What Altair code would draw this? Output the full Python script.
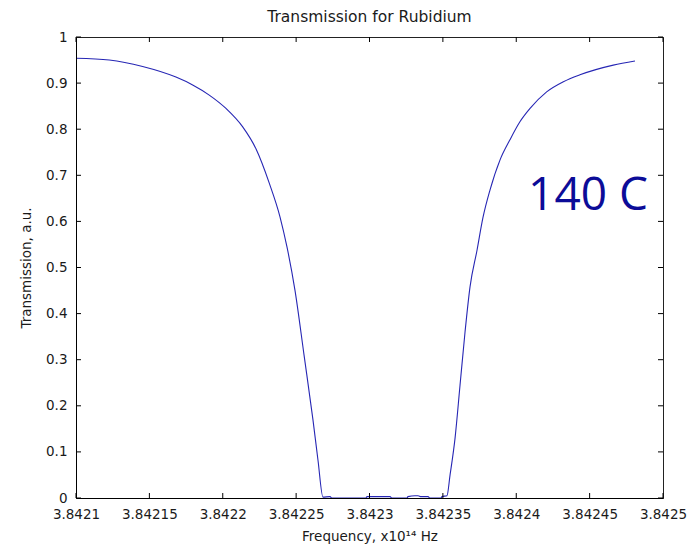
import altair as alt
import pandas as pd

freq = [3.8421, 3.8421227, 3.8421454, 3.8421681, 3.8421795, 3.8421908, 3.8422022,
        3.8422136, 3.8422227, 3.8422317, 3.8422390, 3.8422438, 3.8422492,
        3.8422554, 3.8422615, 3.8422649, 3.8422683, 3.8422731, 3.8422744, 3.8422976,
        3.8422983, 3.8423140, 3.8423153, 3.8423256, 3.8423262, 3.8423310, 3.8423331,
        3.8423351, 3.8423399, 3.8423412, 3.8423487, 3.8423494, 3.8423528, 3.8423549,
        3.8423583, 3.8423617, 3.8423651, 3.8423685, 3.8423733, 3.8423773, 3.8423821,
        3.8423889, 3.8423957, 3.8424025, 3.8424094, 3.8424207, 3.8424321, 3.8424434,
        3.8424661, 3.8424809]
trans = [0.954, 0.950, 0.936, 0.913, 0.896, 0.874, 0.845,
         0.805, 0.757, 0.683, 0.610, 0.544, 0.451,
         0.310, 0.169, 0.082, 0.002, 0.003, 0.0, 0.0,
         0.003, 0.003, 0.0, 0.0, 0.003, 0.005, 0.005,
         0.003, 0.003, 0.0, 0.0, 0.003, 0.005, 0.05,
         0.13, 0.245, 0.36, 0.458, 0.538, 0.608, 0.668,
         0.733, 0.777, 0.816, 0.845, 0.881, 0.903, 0.918,
         0.939, 0.948]

x_ticks = [3.8421, 3.84215, 3.8422, 3.84225, 3.8423, 3.84235, 3.8424, 3.84245, 3.8425]
y_ticks = [0, 0.1, 0.2, 0.3, 0.4, 0.5, 0.6, 0.7, 0.8, 0.9, 1]

df = pd.DataFrame({"f": freq, "t": trans})
dfx = pd.DataFrame({"v": x_ticks})
dfy = pd.DataFrame({"v": y_ticks})

W, H = 587, 461
FONT = "DejaVu Sans"
TXT = "#1a1a1a"

xs = alt.Scale(domain=[3.8421, 3.8425], nice=False, zero=False)
ys = alt.Scale(domain=[0, 1], nice=False, zero=False)

common = dict(ticks=False, grid=False, domainColor="black", zindex=1, labelFlush=False,
              labelFont=FONT, labelFontSize=13.5, labelColor=TXT,
              titleFont=FONT, titleFontSize=13.5, titleFontWeight="normal", titleColor=TXT)

line = alt.Chart(df).mark_line(color="#2626b4", strokeWidth=1.1, clip=True,
                               interpolate="monotone").encode(
    x=alt.X("f:Q", scale=xs,
            axis=alt.Axis(values=x_ticks, format=".6~g", title="Frequency, x10\u00b9\u2074 Hz",
                          labelPadding=9, titlePadding=9, **common)),
    y=alt.Y("t:Q", scale=ys,
            axis=alt.Axis(values=y_ticks, format=".1~f", title="Transmission, a.u.",
                          labelPadding=9, titlePadding=12, **common)),
)

bx = alt.Chart(dfx).mark_rule(color="black", strokeWidth=1).encode(
    x=alt.X("v:Q", scale=xs, axis=None), y=alt.value(H), y2=alt.value(H - 5))
tx = alt.Chart(dfx).mark_rule(color="black", strokeWidth=1).encode(
    x=alt.X("v:Q", scale=xs, axis=None), y=alt.value(0), y2=alt.value(5))
ly = alt.Chart(dfy).mark_rule(color="black", strokeWidth=1).encode(
    y=alt.Y("v:Q", scale=ys, axis=None), x=alt.value(0), x2=alt.value(5))
ry = alt.Chart(dfy).mark_rule(color="black", strokeWidth=1).encode(
    y=alt.Y("v:Q", scale=ys, axis=None), x=alt.value(W), x2=alt.value(W - 5))

label = alt.Chart(pd.DataFrame({"s": ["140 C"]})).mark_text(
    font="Open Sans", fontSize=46, color="#0c0c98", align="center", baseline="alphabetic"
).encode(text="s:N", x=alt.value(512), y=alt.value(173))

chart = alt.layer(line, bx, tx, ly, ry, label).resolve_axis(
    x="independent", y="independent"
).properties(
    width=W, height=H,
    title=alt.TitleParams("Transmission for Rubidium", font=FONT, fontSize=15.5,
                          fontWeight="normal", color=TXT, offset=5),
    autosize=alt.AutoSizeParams(type="none"),
    padding={"left": 76, "top": 37, "right": 30, "bottom": 56},
    background="white",
).configure_view(stroke="#222", strokeWidth=1)

chart.save("out.html", embed_options={"renderer": "svg", "actions": False})
